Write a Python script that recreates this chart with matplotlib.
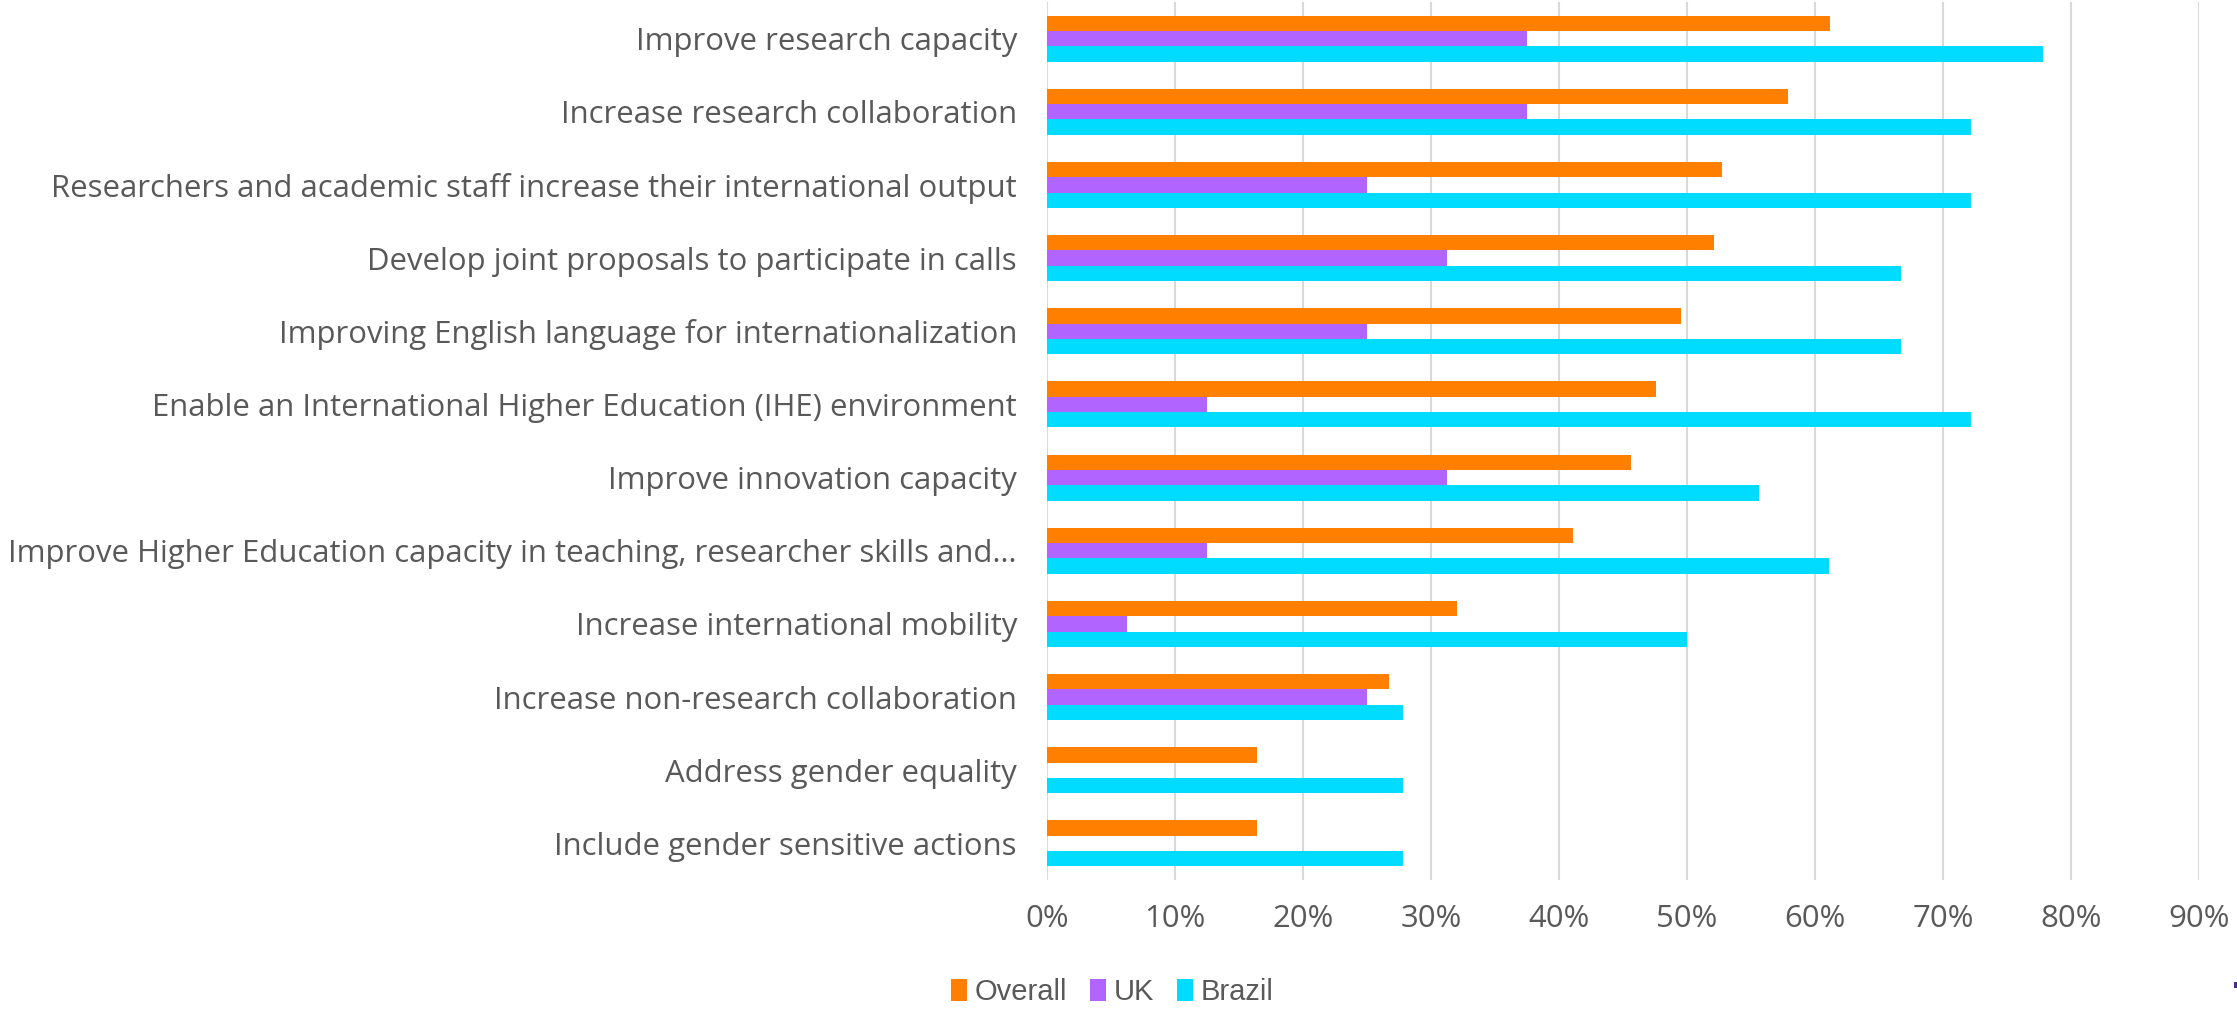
import matplotlib
matplotlib.use("Agg")
import matplotlib.pyplot as plt
from matplotlib.patches import Rectangle
from matplotlib.ticker import FuncFormatter, MultipleLocator
import numpy as np

categories = [
    "Improve research capacity",
    "Increase research collaboration",
    "Researchers and academic staff increase their international output",
    "Develop joint proposals to participate in calls",
    "Improving English language for internationalization",
    "Enable an International Higher Education (IHE) environment",
    "Improve innovation capacity",
    "Improve Higher Education capacity in teaching, researcher skills and\u2026",
    "Increase international mobility",
    "Increase non-research collaboration",
    "Address gender equality",
    "Include gender sensitive actions",
]
overall = [61.2, 57.9, 52.7, 52.1, 49.5, 47.6, 45.6, 41.1, 32.0, 26.7, 16.4, 16.4]
uk = [37.5, 37.5, 25.0, 31.25, 25.0, 12.5, 31.25, 12.5, 6.25, 25.0, 0.0, 0.0]
brazil = [77.8, 72.2, 72.2, 66.7, 66.7, 72.2, 55.6, 61.1, 50.0, 27.8, 27.8, 27.8]
series_names = ["Overall", "UK", "Brazil"]
colors = ["#FF8000", "#B164FF", "#00DCFF"]

W, H = 2237, 1010
fig = plt.figure(figsize=(W / 100, H / 100), dpi=100)
left, right = 1047 / W, 2199 / W
top, bottom = 1 - 2 / H, 1 - 880 / H
ax = fig.add_axes([left, bottom, right - left, top - bottom])

n = len(categories)
y = np.arange(n)
bh = 0.21
for i, (vals, c, name) in enumerate(zip([overall, uk, brazil], colors, series_names)):
    ax.barh(y + (i - 1) * bh, np.array(vals) / 100, height=bh, color=c, label=name, zorder=3)

ax.set_ylim(n - 0.5, -0.5)
ax.set_xlim(0, 0.9)
ax.xaxis.set_major_locator(MultipleLocator(0.1))
ax.xaxis.set_major_formatter(FuncFormatter(lambda v, p: f"{v*100:.0f}%"))
ax.set_yticks(y)
ax.set_yticklabels(categories)
ax.grid(axis="x", color="#D9D9D9", linewidth=1.5, zorder=0)
for s in ax.spines.values():
    s.set_visible(False)
ax.tick_params(axis="both", length=0, colors="#595959")
ax.tick_params(axis="y", pad=21.6)
ax.tick_params(axis="x", pad=17)

FAM = "Open Sans"
for lab in ax.get_yticklabels() + ax.get_xticklabels():
    lab.set_fontsize(22)
    lab.set_family(FAM)
    lab.set_color("#595959")

# fit the longest category label to the reference width (~1010 px)
fig.canvas.draw()
r = fig.canvas.get_renderer()
widest = max(l.get_window_extent(r).width for l in ax.get_yticklabels())
size = 22 * 1010 / widest
for lab in ax.get_yticklabels() + ax.get_xticklabels():
    lab.set_fontsize(size)

leg = fig.legend(loc="center", bbox_to_anchor=(1112 / W, 1 - 992 / H), ncol=3, frameon=False,
                 handlelength=0.55, handleheight=0.75, handletextpad=0.25, columnspacing=0.8,
                 prop={"family": "Liberation Sans", "size": 21})
for t in leg.get_texts():
    t.set_color("#595959")

fig.patches.append(Rectangle((2234 / W, 1 - 988 / H), 3 / W, 6 / H, transform=fig.transFigure,
                             facecolor="#4B2A8C", edgecolor="none"))

fig.savefig("out.png", dpi=100)
